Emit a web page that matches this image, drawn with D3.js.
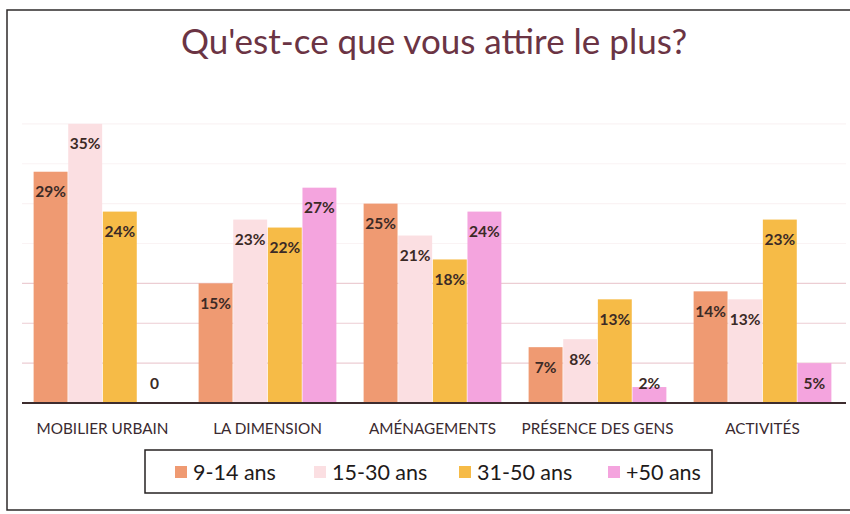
<!DOCTYPE html>
<html>
<head>
<meta charset="utf-8">
<script src="https://cdn.jsdelivr.net/npm/d3@7/dist/d3.min.js"></script>
<style>
  html, body { margin: 0; padding: 0; background: #ffffff; }
  svg { display: block; }
</style>
</head>
<body>
<svg id="chart" width="850" height="514"></svg>
<script>
// Survey answers by age group, in percent
const categories = ["MOBILIER URBAIN", "LA DIMENSION", "AMÉNAGEMENTS", "PRÉSENCE DES GENS", "ACTIVITÉS"];
const seriesNames = ["9-14 ans", "15-30 ans", "31-50 ans", "+50 ans"];
const age9to14 = [29, 15, 25, 7, 14];
const age15to30 = [35, 23, 21, 8, 13];
const age31to50 = [24, 22, 18, 13, 23];
const age50plus = [0, 27, 24, 2, 5];
const gridTicks = [5, 10, 15, 20, 25, 30, 35];

const seriesValues = [age9to14, age15to30, age31to50, age50plus];
const colors = ["#ef9a72", "#fbdfe2", "#f6bb47", "#f4a4de"];

const svg = d3.select("#chart");
const font = "Lato, 'Open Sans', sans-serif";

// frame around the chart
svg.append("path")
  .attr("d", "M850,10 L7,10 L7,510 L850,510")
  .attr("fill", "none")
  .attr("stroke", "#2e2a2a")
  .attr("stroke-width", 1.5);

// title
svg.append("text")
  .attr("x", 434)
  .attr("y", 54)
  .attr("text-anchor", "middle")
  .attr("font-family", font)
  .attr("font-size", 35)
  .attr("fill", "#6b3444")
  .text("Qu'est-ce que vous attire le plus?");

const x0 = d3.scaleBand()
  .domain(categories)
  .range([20, 845])
  .paddingInner(0.165)
  .paddingOuter(0.0825);

const x1 = d3.scaleBand()
  .domain(d3.range(seriesNames.length))
  .range([0, x0.bandwidth()])
  .paddingInner(0.02);

const y = d3.scaleLinear().domain([0, 40]).range([403, 84]);

// light horizontal gridlines
svg.append("g")
  .selectAll("line")
  .data(gridTicks)
  .join("line")
  .attr("x1", 22)
  .attr("x2", 846)
  .attr("y1", d => y(d))
  .attr("y2", d => y(d))
  .attr("stroke", d => d <= 15 ? "#eccdd3" : "#faf3f4")
  .attr("stroke-width", 1.2);

// bars
const rows = categories.map((c, i) => ({
  cat: c,
  vals: seriesValues.map((s, k) => ({ k, v: s[i] }))
}));

const groups = svg.append("g")
  .selectAll("g")
  .data(rows)
  .join("g")
  .attr("transform", d => `translate(${x0(d.cat)},0)`);

groups.selectAll("rect")
  .data(d => d.vals)
  .join("rect")
  .attr("x", d => x1(d.k))
  .attr("width", x1.bandwidth())
  .attr("y", d => y(d.v))
  .attr("height", d => y(0) - y(d.v))
  .attr("fill", d => colors[d.k]);

groups.selectAll("text")
  .data(d => d.vals)
  .join("text")
  .attr("x", d => x1(d.k) + x1.bandwidth() / 2)
  .attr("y", d => Math.min(y(d.v) + 20, y(0) - 19))
  .attr("dy", "0.35em")
  .attr("text-anchor", "middle")
  .attr("font-family", font)
  .attr("font-weight", "bold")
  .attr("font-size", 15.5)
  .attr("fill", "#3b2a26")
  .text(d => d.v === 0 ? "0" : d.v + "%");

// category axis
const xAxis = svg.append("g")
  .attr("transform", `translate(0,${y(0)})`)
  .call(d3.axisBottom(x0).tickSize(0).tickPadding(20).tickSizeOuter(0));
xAxis.select(".domain").remove();
xAxis.append("line")
  .attr("x1", 22).attr("x2", 846)
  .attr("stroke", "#3d2c2e").attr("stroke-width", 2.2);
xAxis.selectAll(".tick text")
  .attr("font-family", font)
  .attr("font-size", 15.3)
  .attr("fill", "#3a2a30");

// legend
const legend = svg.append("g");
legend.append("rect")
  .attr("x", 145).attr("y", 450)
  .attr("width", 567).attr("height", 43)
  .attr("fill", "#ffffff")
  .attr("stroke", "#262222")
  .attr("stroke-width", 1.5);

const legendX = d3.scaleOrdinal().domain(seriesNames).range([175, 314, 459, 608]);
const items = legend.selectAll("g.item")
  .data(seriesNames)
  .join("g")
  .attr("class", "item")
  .attr("transform", d => `translate(${legendX(d)},472)`);
items.append("rect")
  .attr("x", 0).attr("y", -6)
  .attr("width", 12).attr("height", 12)
  .attr("fill", (d, i) => colors[i]);
items.append("text")
  .attr("x", 18)
  .attr("dy", "0.36em")
  .attr("font-family", font)
  .attr("font-size", 21.5)
  .attr("fill", "#1e1a1a")
  .text(d => d);
</script>
</body>
</html>
